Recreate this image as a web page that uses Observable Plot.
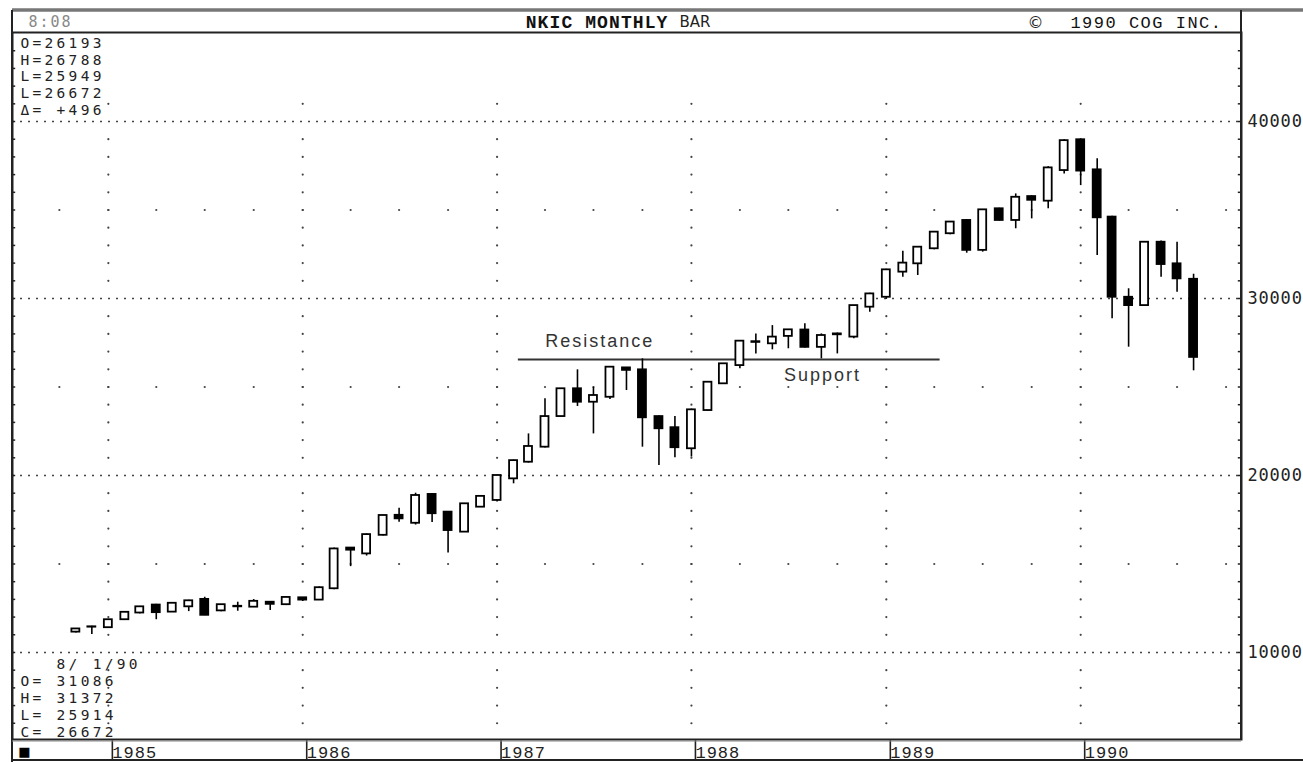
<!DOCTYPE html>
<html>
<head>
<meta charset="utf-8">
<script src="https://cdn.jsdelivr.net/npm/d3@7"></script>
<script src="https://cdn.jsdelivr.net/npm/@observablehq/plot@0.6"></script>
<style>
  body { margin: 0; background: #fff; }
  svg text, svg tspan { white-space: pre; }
  g[aria-description="stats"] text { letter-spacing: 3.3px; }
  g[aria-description="clock"] text { letter-spacing: 2px; }
  g[aria-description="title"] text { letter-spacing: 1.1px; }
  g[aria-description="copy"] text { letter-spacing: 1.5px; }
  g[aria-description="note"] text { letter-spacing: 2px; }
  g[aria-label="y-axis tick label"] text { letter-spacing: 0.8px; }
  g[aria-label="x-axis tick label"] text { letter-spacing: 1px; }
</style>
</head>
<body>
<div id="chart"></div>
<script>
// ---- data (monthly OHLC, Nikkei, Nov 1984 – Aug 1990) ----
const months = [
  "1984-11","1984-12",
  "1985-01","1985-02","1985-03","1985-04","1985-05","1985-06","1985-07","1985-08","1985-09","1985-10","1985-11","1985-12",
  "1986-01","1986-02","1986-03","1986-04","1986-05","1986-06","1986-07","1986-08","1986-09","1986-10","1986-11","1986-12",
  "1987-01","1987-02","1987-03","1987-04","1987-05","1987-06","1987-07","1987-08","1987-09","1987-10","1987-11","1987-12",
  "1988-01","1988-02","1988-03","1988-04","1988-05","1988-06","1988-07","1988-08","1988-09","1988-10","1988-11","1988-12",
  "1989-01","1989-02","1989-03","1989-04","1989-05","1989-06","1989-07","1989-08","1989-09","1989-10","1989-11","1989-12",
  "1990-01","1990-02","1990-03","1990-04","1990-05","1990-06","1990-07","1990-08"
];
const opens = [
  11150,11450,
  11400,11850,12230,12680,12280,12580,13000,12350,12580,12560,12840,12700,
  13090,12960,13600,15900,15570,16620,17750,17300,18930,17930,16800,18210,
  18590,19810,20750,21600,23330,24900,24140,24420,26080,25970,23330,22700,
  21510,23670,25180,26210,27560,27440,27860,28220,27240,28000,27820,29510,
  30070,31490,31960,32810,33660,34410,32720,35070,34410,35760,35500,37230,
  38970,37270,34600,30070,29600,33180,31960,31086
];
const highs = [
  11350,11480,
  11870,12290,12600,12720,12790,12950,13120,12710,12840,12990,12860,13160,
  13100,13700,15900,15920,16700,17760,18150,19000,18950,17960,18420,18870,
  20020,20870,22350,24330,24900,25970,24990,26120,26100,26590,23360,23330,
  23750,25300,26320,27600,28000,28470,28250,28570,28000,28050,29600,30300,
  31650,32670,32900,33750,34330,34450,35010,35100,35910,35800,37450,38970,
  38970,37890,34650,30550,33180,33250,33180,31372
];
const lows = [
  11100,11020,
  11380,11830,12180,11850,12260,12310,12080,12300,12330,12550,12370,12650,
  12880,12940,13550,14850,15450,16580,17360,17200,17350,15620,16780,18200,
  18500,19530,20700,21550,23300,23900,22350,24300,24800,21600,20560,21000,
  21040,23650,25150,26030,26870,27100,27160,27200,26590,26870,27720,29230,
  29950,31200,31300,32750,33600,32560,32620,34380,33940,34500,35070,37040,
  36380,32430,28850,27250,29550,31200,30360,25914
];
const closes = [
  11330,11430,
  11850,12270,12580,12250,12780,12920,12100,12700,12610,12890,12720,13110,
  12960,13660,15850,15780,16660,17740,17550,18870,17840,16890,18400,18820,
  20000,20840,21640,23330,24900,24140,24520,26120,25940,23260,22640,21570,
  23710,25270,26310,27590,27520,27820,28230,27240,27910,27950,29600,30260,
  31620,32000,32900,33750,34320,32720,35010,34410,35720,35550,37380,38920,
  37200,34560,30070,29600,33180,31920,31110,26672
];
const yearTicks = ["1985","1986","1987","1988","1989","1990"];
const priceLabels = [10000, 20000, 30000, 40000];
const quarterRows = [15000, 25000, 35000];
const topStats = ["O=26193","H=26788","L=25949","L=26672","Δ= +496"];
const lastBar = ["   8/ 1/90","O= 31086","H= 31372","L= 25914","C= 26672"];
const levelValue = 26553;
const levelSpan = ["1987-02-10", "1989-04-12"];
const noteLabels = ["Resistance", "Support"];
const noteDates = ["1987-07-13", "1988-09-03"];
const noteValues = [27598, 25649];
const headerClock = "8:08";
const headerTitle = ["NKIC MONTHLY", "BAR"];
const headerCopy = ["©", "1990 COG INC."];

// ---- helpers ----
const DAY = 864e5;
const toDate = s => new Date((s.length === 7 ? s + "-01" : s) + "T00:00:00Z");
const xStart = toDate("1984-07-05");
const xEnd = toDate("1990-10-30");
const bars = months.map((m, i) => ({
  date: toDate(m), open: opens[i], high: highs[i], low: lows[i], close: closes[i]
}));
const yearDates = yearTicks.map(y => toDate(y + "-01"));
const quarterDates = d3.utcMonth.every(3).range(toDate("1984-10"), toDate("1990-11"));
const quarterDots = d3.cross(quarterDates, quarterRows).map(([x, y]) => ({x, y}));
const yearDotLevels = d3.range(6000, 42000, 1000).filter(v => v % 10000 !== 0);
const yearDots = d3.cross(yearDates, yearDotLevels).map(([x, y]) => ({x, y}));
const borderTicks = d3.range(6000, 45000, 1000);
const notes = noteLabels.map((t, i) => ({t, x: toDate(noteDates[i]), y: noteValues[i]}));

const W = 1303, H = 762, mL = 12, mR = 62, mT = 32, mB = 23;
const statFont = {fontFamily: "DejaVu Sans Mono, monospace", fontSize: 14.5, lineHeight: 1.17,
  textAnchor: "start", fill: "#222", ariaDescription: "stats"};

const plot = Plot.plot({
  width: W, height: H,
  marginLeft: mL, marginRight: mR, marginTop: mT, marginBottom: mB,
  style: {background: "#fff", overflow: "visible"},
  x: {type: "utc", domain: [xStart, xEnd]},
  y: {type: "linear", domain: [5083, 45030]},
  marks: [
    // dotted grid
    Plot.dot(quarterDots, {x: "x", y: "y", r: 1.1, fill: "#444", stroke: null}),
    Plot.dot(yearDots, {x: "x", y: "y", r: 1.1, fill: "#444", stroke: null}),
    Plot.ruleY(priceLabels, {stroke: "#444", strokeWidth: 1.6, strokeDasharray: "2,6"}),
    // border ticks
    Plot.ruleY(borderTicks, {x1: xStart, x2: new Date(+xStart + 6 * DAY), stroke: "#222", strokeWidth: 1.5}),
    Plot.ruleY(borderTicks, {x1: new Date(+xEnd - 6 * DAY), x2: xEnd, stroke: "#222", strokeWidth: 1.5}),
    // resistance / support line
    Plot.ruleY([levelValue], {x1: toDate(levelSpan[0]), x2: toDate(levelSpan[1]), stroke: "#333", strokeWidth: 1.8}),
    // candles
    Plot.ruleX(bars, {x: "date", y1: "low", y2: "high", stroke: "#000", strokeWidth: 1.6}),
    Plot.rect(bars, {
      x1: d => new Date(+d.date - 7.5 * DAY), x2: d => new Date(+d.date + 7.5 * DAY),
      y1: "open", y2: "close",
      fill: d => d.close >= d.open ? "#fff" : "#000",
      stroke: "#000", strokeWidth: 1.8
    }),
    // annotations
    Plot.text(notes, {x: "x", y: "y", text: "t", fontFamily: "Liberation Sans, Arial, sans-serif",
      fontSize: 18, fill: "#333", ariaDescription: "note"}),
    // stats text blocks
    Plot.text([topStats.join("\n")], {...statFont, frameAnchor: "top-left", dx: 8, dy: 3, lineAnchor: "top"}),
    Plot.text([lastBar.join("\n")], {...statFont, frameAnchor: "bottom-left", dx: 8, dy: -3, lineAnchor: "bottom"}),
    // header band
    Plot.text([headerClock], {frameAnchor: "top-left", dx: 16, dy: -10, lineAnchor: "middle", textAnchor: "start",
      fontFamily: "DejaVu Sans Mono, monospace", fontSize: 15, fill: "#888", ariaDescription: "clock"}),
    Plot.text([headerTitle[0]], {frameAnchor: "top", dx: 41.5, dy: -10, lineAnchor: "middle", textAnchor: "end",
      fontFamily: "Liberation Mono, Courier New, monospace", fontWeight: "bold", fontSize: 18, fill: "#111",
      ariaDescription: "title"}),
    Plot.text([headerTitle[1]], {frameAnchor: "top", dx: 52.5, dy: -10, lineAnchor: "middle", textAnchor: "start",
      fontFamily: "DejaVu Sans, sans-serif", fontSize: 15, fill: "#222"}),
    Plot.text([headerCopy[0]], {frameAnchor: "top-right", dx: -206, dy: -10, lineAnchor: "middle", textAnchor: "middle",
      fontFamily: "DejaVu Sans, sans-serif", fontSize: 16, fill: "#222"}),
    Plot.text([headerCopy[1]], {frameAnchor: "top-right", dx: -19, dy: -10, lineAnchor: "middle", textAnchor: "end",
      fontFamily: "Liberation Mono, Courier New, monospace", fontSize: 17, fill: "#111", ariaDescription: "copy"}),
    Plot.text(["■"], {frameAnchor: "bottom-left", dx: 12, dy: 12, lineAnchor: "middle", textAnchor: "middle",
      fontFamily: "DejaVu Sans, sans-serif", fontSize: 13, fill: "#000"}),
    // axes
    Plot.axisY({anchor: "right", ticks: priceLabels, tickSize: 0, tickPadding: 6, label: null,
      tickFormat: d => String(d), fontFamily: "DejaVu Sans Mono, monospace", fontSize: 17, fill: "#222"}),
    Plot.axisX({anchor: "bottom", ticks: yearDates, tickSize: 21, tickPadding: -15, label: null,
      tickFormat: d => String(d.getUTCFullYear()), textAnchor: "start", dx: 4,
      fontFamily: "Liberation Mono, Courier New, monospace", fontSize: 17, fill: "#222",
      stroke: "#222", strokeWidth: 1.6}),
    Plot.frame({stroke: "#222", strokeWidth: 2})
  ]
});

document.getElementById("chart").appendChild(plot);

// outer chrome of the terminal screen
const chrome = d3.select(plot).append("g").attr("fill", "none");
const chromeLines = [
  {x1: mL, y1: 10, x2: W, y2: 10, s: "#777", w: 3.5},
  {x1: mL, y1: 10, x2: mL, y2: H, s: "#222", w: 2},
  {x1: W - mR, y1: 10, x2: W - mR, y2: H - mB, s: "#222", w: 2},
  {x1: mL, y1: H - 2, x2: W, y2: H - 2, s: "#222", w: 2},
  {x1: mL, y1: H - mB + 2, x2: W - mR, y2: H - mB + 2, s: "#888", w: 1}
];
chrome.selectAll("line").data(chromeLines).join("line")
  .attr("x1", d => d.x1).attr("y1", d => d.y1).attr("x2", d => d.x2).attr("y2", d => d.y2)
  .attr("stroke", d => d.s).attr("stroke-width", d => d.w);
</script>
</body>
</html>
